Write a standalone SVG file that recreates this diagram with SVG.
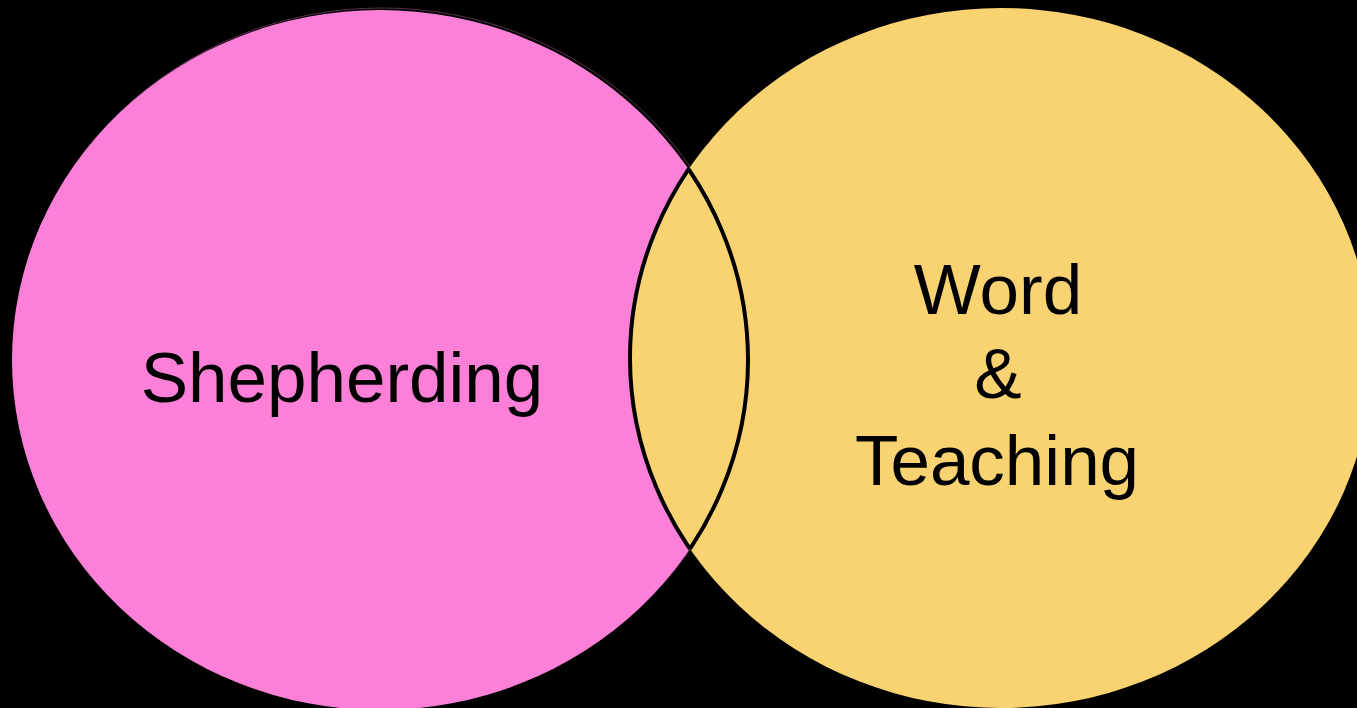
<svg xmlns="http://www.w3.org/2000/svg" width="1357" height="708" viewBox="0 0 1357 708">
<style>
.lbl{font-family:"Liberation Sans",Arial,sans-serif;font-size:71px;fill:#000;text-anchor:middle}
.edge{fill:none;stroke:#000;stroke-width:4}
</style>
<defs>
<clipPath id="pinkClip"><ellipse cx="380" cy="360" rx="368" ry="350"/></clipPath>
<clipPath id="yellowClip"><ellipse cx="1001" cy="358" rx="371" ry="350"/></clipPath>
</defs>
<rect x="0" y="0" width="1357" height="708" fill="#000"/>
<g id="shepherding">
<ellipse cx="380" cy="360" rx="368" ry="350" fill="#FC80D8"/>
<ellipse cx="382" cy="358" rx="368" ry="350" fill="none" stroke="#FC80D8" stroke-width="0.6" opacity="0.6"/>
<text class="lbl" x="342" y="402">Shepherding</text>
</g>
<g id="word-teaching">
<ellipse cx="1001" cy="358" rx="371" ry="350" fill="#F9D372"/>
<text class="lbl" x="998" y="314">Word</text>
<text class="lbl" x="998" y="398">&amp;</text>
<text class="lbl" x="997" y="485">Teaching</text>
</g>
<g id="connectors">
<g clip-path="url(#pinkClip)">
<ellipse class="edge" cx="1001" cy="358" rx="371" ry="350"/>
</g>
<g clip-path="url(#yellowClip)">
<ellipse class="edge" cx="380" cy="360" rx="368" ry="350"/>
</g>
</g>
</svg>
